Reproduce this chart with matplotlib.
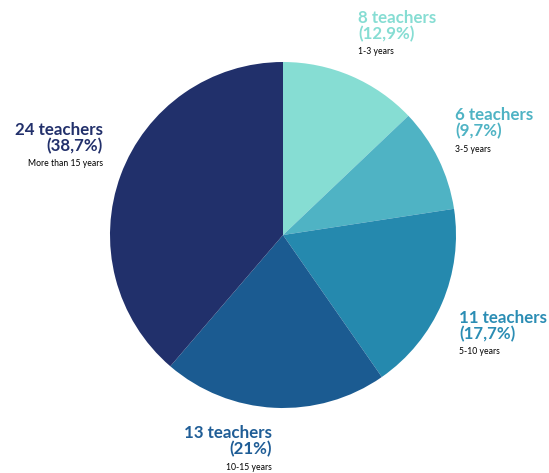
import matplotlib
matplotlib.use("Agg")
import matplotlib.pyplot as plt

# teachers by years of experience
groups = ["1-3 years", "3-5 years", "5-10 years", "10-15 years", "More than 15 years"]
teachers = [8, 6, 11, 13, 24]
shares = ["12,9%", "9,7%", "17,7%", "21%", "38,7%"]
colors = ["#86ddd3", "#4fb3c4", "#2589ae", "#1b5b91", "#21306b"]
label_colors = ["#86ddd3", "#4fb3c4", "#2b8db4", "#1f5d96", "#22306b"]

W, H = 549, 473
fig = plt.figure(figsize=(W / 100, H / 100), dpi=100)
ax = fig.add_axes([0, 0, 1, 1])

ax.pie(teachers, colors=colors, startangle=90, counterclock=False,
       center=(283, H - 235), radius=173, frame=True,
       wedgeprops=dict(linewidth=0))
ax.set_xlim(0, W)
ax.set_ylim(0, H)
ax.set_aspect("equal")
ax.axis("off")

# label anchor (x, baseline of first line) in pixels from top-left, alignment
spots = [(358, 23, "left"), (455, 120, "left"), (459, 323, "left"),
         (272, 438, "right"), (103, 135, "right")]

font = "Lato"
for n, pct, grp, c, (x, y, ha) in zip(teachers, shares, groups, label_colors, spots):
    ax.text(x, H - y, f"{n} teachers", color=c, ha=ha, va="baseline",
            fontsize=12.2, family=font, weight="bold")
    ax.text(x, H - y - 16, f"({pct})", color=c, ha=ha, va="baseline",
            fontsize=12.2, family=font, weight="bold")
    ax.text(x, H - y - 31.5, grp, color="black", ha=ha, va="baseline",
            fontsize=6.2, family=font)

fig.savefig("out.png", dpi=100)
